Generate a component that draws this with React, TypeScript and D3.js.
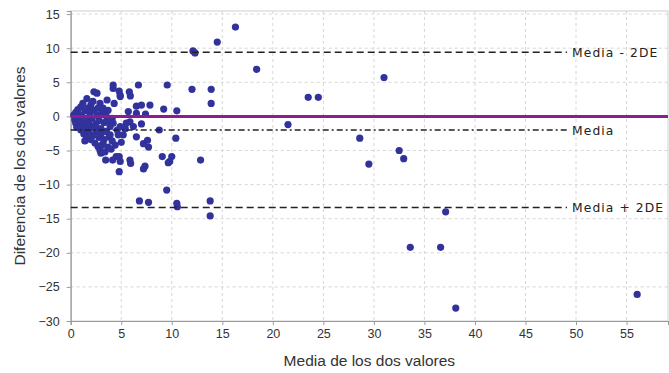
import React, { useEffect, useRef } from "react";
import * as d3 from "d3";

// Bland–Altman style plot: mean of two measurements vs. their difference
const meanValues: number[] = [
  0.3, 0.4, 0.5, 0.5, 0.6, 0.7, 0.8, 0.8, 0.9, 1.0, 1.0, 1.1, 1.2, 1.2, 1.3, 1.4, 1.5, 1.5, 1.6, 1.6,
  1.7, 1.8, 1.8, 1.9, 2.0, 2.0, 2.1, 2.1, 2.2, 2.2, 2.3, 2.3, 2.4, 2.5, 2.5, 2.6, 2.6, 2.7, 2.7, 2.8,
  2.8, 2.9, 2.9, 3.0, 3.0, 3.1, 3.1, 3.2, 3.2, 3.3, 3.3, 3.4, 3.5, 3.5, 3.6, 3.6, 3.7, 3.7, 3.8, 3.9,
  3.9, 4.0, 4.1, 4.1, 4.2, 4.2, 4.2, 4.3, 4.4, 4.5, 4.6, 4.7, 4.8, 4.8, 4.8, 4.9, 4.9, 4.9, 4.9, 5.0,
  5.2, 5.4, 5.5, 5.7, 5.8, 5.9, 5.86, 5.86, 5.93, 6.2, 6.5, 6.5, 6.5, 3.46, 4.15, 0.6, 1.4, 2.4, 3.0,
  6.7, 9.55, 12.0, 13.9, 13.9, 7.0, 7.84, 9.2, 10.5, 7.4, 7.0, 8.76, 10.4, 7.2, 7.6, 7.7, 9.06, 10.0,
  9.65, 9.8, 12.85, 7.35, 7.2, 9.5, 6.8, 7.7, 10.5, 10.55, 13.8, 13.8, 16.3, 14.5, 12.1, 12.3, 18.4,
  31.0, 23.5, 24.5, 21.5, 28.6, 32.5, 32.95, 29.5, 37.1, 33.6, 36.6, 38.1, 56.05,
];

const diffValues: number[] = [
  0.2, -0.5, 0.6, -1.0, -0.2, 1.0, -1.5, 0.3, -0.8, 1.4, -2.0, 0.0, -1.2, 1.9, -2.6, 0.8, -0.4, -1.8, 2.6, -3.0,
  1.2, -1.0, -2.4, 0.4, 1.7, -3.4, -0.3, -1.6, 2.2, -2.8, 3.6, 0.9, -3.9, -1.1, -2.2, 3.4, 0.2, 1.2, -4.4, -0.6,
  -3.1, -5.0, 1.9, -1.8, -2.6, 0.5, -4.2, 1.2, -4.0, -3.4, -0.9, -5.2, -2.2, 0.1, 2.4, -0.8, -4.5, 0.9, -3.0, -2.7,
  -1.5, -4.8, -0.3, -3.6, 4.6, 4.1, -1.0, 1.9, -4.2, -5.9, -2.0, -2.7, -5.9, 3.7, -8.1, -1.5, -6.6, 3.1, 2.9, -3.8,
  -2.7, -1.8, -1.0, 0.7, 3.6, 3.0, -0.8, -6.4, -6.9, -1.5, 1.5, 0.44, -3.0, -6.4, -6.4, -1.6, -3.6, -1.4, -5.4,
  4.6, 4.6, 3.96, 3.96, 1.9, 1.66, 1.66, 1.07, 0.82, 0.34, -1.1, -2.0, -3.2, -4.0, -3.5, -4.5, -5.9, -5.9,
  -6.8, -6.6, -6.4, -7.3, -7.7, -10.8, -12.4, -12.6, -12.75, -13.25, -12.4, -14.6, 13.1, 10.9, 9.6, 9.3, 6.9,
  5.7, 2.8, 2.8, -1.2, -3.2, -5.0, -6.2, -7.0, -14.0, -19.2, -19.2, -28.1, -26.1,
];

const xTicks: number[] = [0, 5, 10, 15, 20, 25, 30, 35, 40, 45, 50, 55];
const yTicks: number[] = [15, 10, 5, 0, -5, -10, -15, -20, -25, -30];

// Reference lines: mean difference and ±2 SD limits
const meanDiff = -2.0;
const upperLimit = 9.4;
const lowerLimit = -13.35;
const refLabels: string[] = ["Media - 2DE", "Media", "Media + 2DE"];

const W = 669;
const H = 373;

export default function App() {
  const ref = useRef<SVGSVGElement | null>(null);

  useEffect(() => {
    const svg = d3.select(ref.current);
    svg.selectAll("*").remove();

    const x = d3.scaleLinear().domain([0, 59.1]).range([70.7, 668]);
    const y = d3.scaleLinear().domain([-30, 15.45]).range([321, 11]);
    const [x0, x1] = x.range();
    const [yb, yt] = y.range();

    const tickFont = "'Liberation Sans', Arial, sans-serif";

    // frame
    svg.append("rect")
      .attr("x", x0).attr("y", yt).attr("width", x1 - x0).attr("height", yb - yt)
      .attr("fill", "#fff").attr("stroke", "#cfcfcf").attr("stroke-width", 1);

    // grid
    const grid = svg.append("g").attr("stroke", "#d6d6d6").attr("stroke-width", 1).attr("stroke-dasharray", "3,3");
    xTicks.filter((t) => t > 0).forEach((t) => {
      grid.append("line").attr("x1", x(t)).attr("x2", x(t)).attr("y1", yt).attr("y2", yb);
    });
    yTicks.filter((t) => t > -30).forEach((t) => {
      grid.append("line").attr("x1", x0).attr("x2", x1).attr("y1", y(t)).attr("y2", y(t));
    });

    // axes
    const xAxis = svg.append("g").attr("transform", `translate(0,${yb})`)
      .call(d3.axisBottom(x).tickValues(xTicks).tickSize(4).tickPadding(4));
    const yAxis = svg.append("g").attr("transform", `translate(${x0},0)`)
      .call(d3.axisLeft(y).tickValues(yTicks).tickSize(4).tickPadding(7));
    [xAxis, yAxis].forEach((g) => {
      g.select(".domain").attr("stroke", "#9a9a9a").attr("stroke-width", 1.2);
      g.selectAll(".tick line").attr("stroke", "#9a9a9a");
      g.selectAll(".tick text").attr("fill", "#333").attr("font-size", 12.5).attr("font-family", tickFont);
    });

    // points
    svg.append("g").selectAll("circle")
      .data(meanValues.map((m, i) => [m, diffValues[i]]))
      .join("circle")
      .attr("cx", (d) => x(d[0]))
      .attr("cy", (d) => y(d[1]))
      .attr("r", 3.6)
      .attr("fill", "#32329c");

    // zero line
    svg.append("line")
      .attr("x1", x0).attr("x2", x1).attr("y1", y(0)).attr("y2", y(0))
      .attr("stroke", "#8e1c8e").attr("stroke-width", 3);

    const lineEnd = 567;
    const refLines: [number, string][] = [
      [upperLimit, "7,4"],
      [meanDiff, "6,3,2,3"],
      [lowerLimit, "7,4"],
    ];
    refLines.forEach(([v, dash], i) => {
      svg.append("line")
        .attr("x1", x0).attr("x2", lineEnd).attr("y1", y(v)).attr("y2", y(v))
        .attr("stroke", "#222").attr("stroke-width", 1.4).attr("stroke-dasharray", dash);
      svg.append("text")
        .attr("x", 572).attr("y", y(v) + 4.5)
        .attr("text-anchor", "start")
        .attr("font-family", "'DejaVu Sans', sans-serif")
        .attr("font-size", 12.3)
        .attr("letter-spacing", 1.1)
        .attr("fill", "#222")
        .text(refLabels[i]);
    });

    // axis titles
    svg.append("text")
      .attr("x", (x0 + x1) / 2).attr("y", 366)
      .attr("text-anchor", "middle")
      .attr("font-family", tickFont).attr("font-size", 15.5).attr("fill", "#333")
      .text("Media de los dos valores");
    svg.append("text")
      .attr("transform", `translate(25,${(yt + yb) / 2}) rotate(-90)`)
      .attr("text-anchor", "middle")
      .attr("font-family", tickFont).attr("font-size", 15.5).attr("fill", "#333")
      .text("Diferencia de los dos valores");
  }, []);

  return (
    <svg
      ref={ref}
      width={W}
      height={H}
      style={{ position: "absolute", left: 0, top: 0, background: "#fff" }}
    />
  );
}
